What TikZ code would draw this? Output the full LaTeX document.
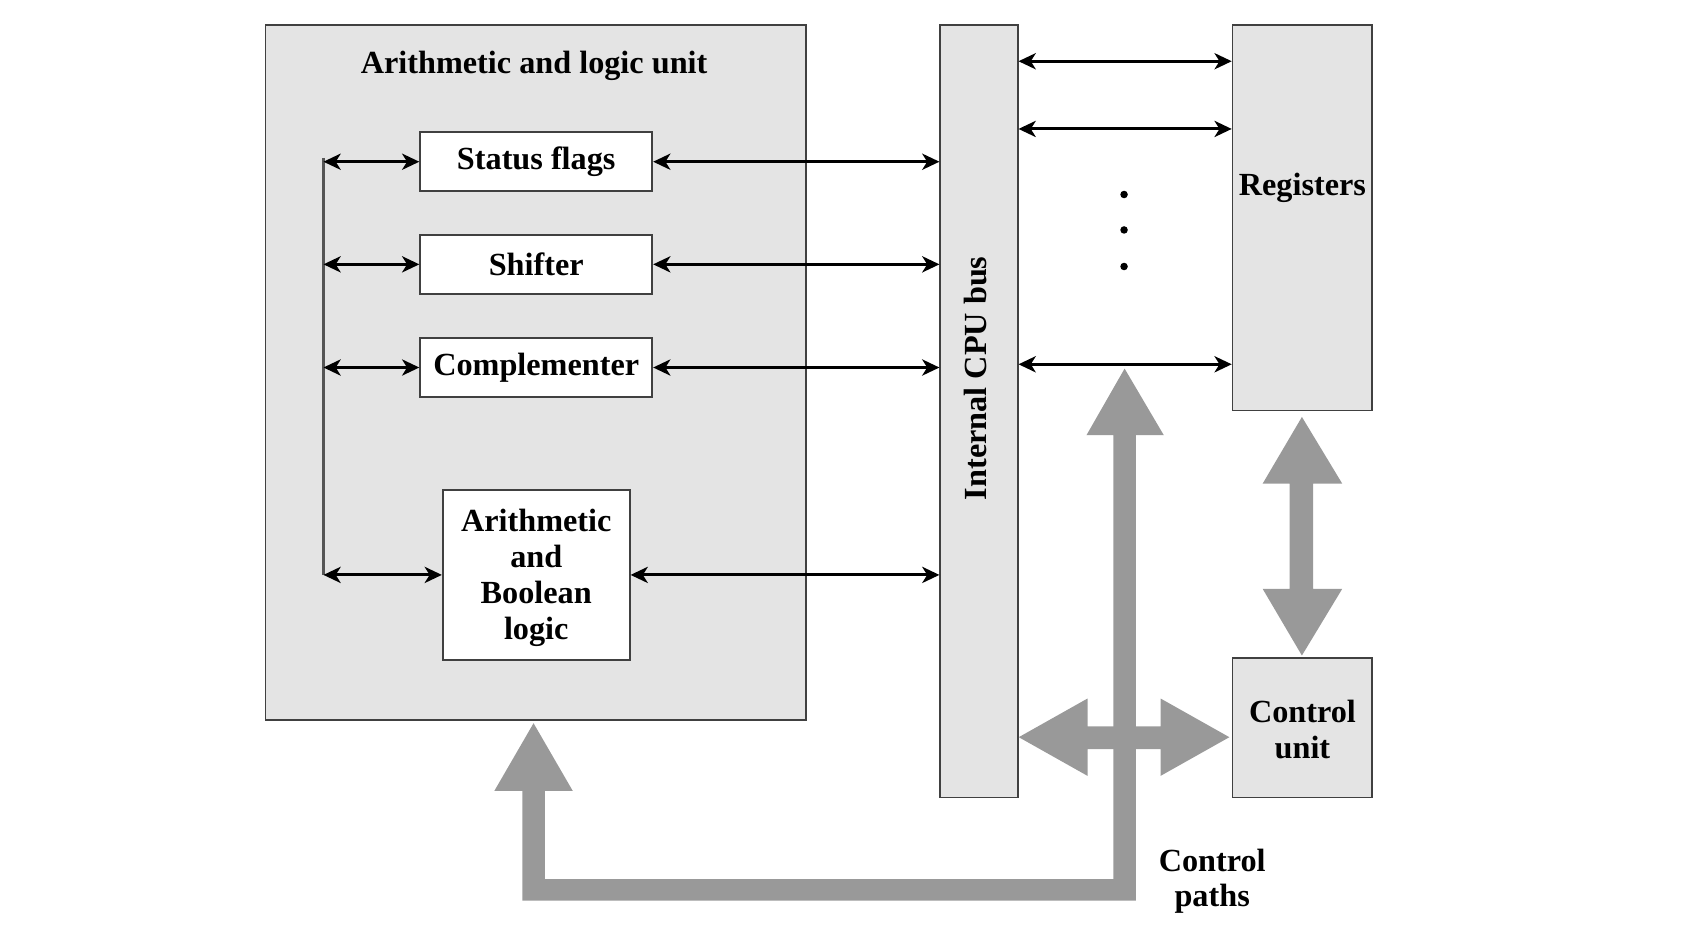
\documentclass[tikz,border=0pt]{standalone}
\usepackage{fontspec}
\setmainfont{Liberation Serif}
\usetikzlibrary{arrows.meta}
\definecolor{boxfill}{HTML}{E4E4E4}
\definecolor{boxline}{HTML}{404040}
\definecolor{railcol}{HTML}{555555}
\definecolor{bigarrow}{HTML}{999999}
\tikzset{
  txt/.style={font=\fontsize{15}{16.75}\selectfont\bfseries, align=center, inner sep=0pt},
  graybox/.style={draw=boxline, line width=0.8pt, fill=boxfill, inner sep=0pt},
  whitebox/.style={draw=boxline, line width=0.8pt, fill=white, inner sep=0pt, font=\fontsize{15}{16.75}\selectfont\bfseries, align=center},
  biarrow/.style={line width=1.4pt, {Stealth[length=8pt,width=7.5pt,inset=2.3pt]}-{Stealth[length=8pt,width=7.5pt,inset=2.3pt]}},
  rail/.style={draw=railcol, line width=1pt},
  bigfill/.style={fill=bigarrow, draw=none},
}
\begin{document}
\begin{tikzpicture}[x=0.5pt,y=-0.5pt]
\useasboundingbox (0,0) rectangle (1568,870);

% ALU container
\node[graybox, minimum width=251.5pt, minimum height=323.5pt] (alu) at (498.5,346.5) {};
\node[txt] (alutitle) at (497,61) {Arithmetic and logic unit};

% inner boxes
\node[whitebox, minimum width=108pt, minimum height=27.5pt] (sf) at (499,150.5) {Status flags};
\node[whitebox, minimum width=108pt, minimum height=27.5pt] (sh) at (499,246) {Shifter};
\node[whitebox, minimum width=108pt, minimum height=27.5pt] (cm) at (499,342) {Complementer};
\node[whitebox, minimum width=87pt, minimum height=79pt] (abl) at (499,535) {};
\node[txt] (abltext) at (499,538) {Arithmetic\\and\\Boolean\\logic};

% bus, registers, control unit
\node[graybox, minimum width=36pt, minimum height=359.5pt] (bus) at (911,382.5) {};
\node[txt, rotate=90] (bustext) at (908,352) {Internal CPU bus};
\node[graybox, minimum width=65pt, minimum height=179.5pt] (reg) at (1212,202.5) {};
\node[txt] (regtext) at (1212,175) {Registers};
\node[graybox, minimum width=65pt, minimum height=65pt] (cu) at (1212,677) {};
\node[txt, font=\fontsize{15}{16.5}\selectfont\bfseries] (cutext) at (1212,679) {Control\\unit};

% rail
\coordinate (railtop) at (301,147);
\coordinate (railbot) at (301,535);
\draw[rail] (railtop) -- (railbot);

% left arrows
\draw[biarrow] (sf.west -| railtop) -- (sf.west);
\draw[biarrow] (sh.west -| railtop) -- (sh.west);
\draw[biarrow] (cm.west -| railtop) -- (cm.west);
\draw[biarrow] (abl.west -| railtop) -- (abl.west);

% right arrows to bus
\draw[biarrow] (sf.east) -- (sf.east -| bus.west);
\draw[biarrow] (sh.east) -- (sh.east -| bus.west);
\draw[biarrow] (cm.east) -- (cm.east -| bus.west);
\draw[biarrow] (abl.east) -- (abl.east -| bus.west);

% bus to registers
\coordinate (r1) at (0,57);
\coordinate (r2) at (0,120);
\coordinate (r3) at (0,339);
\draw[biarrow] (bus.east |- r1) -- (reg.west |- r1);
\draw[biarrow] (bus.east |- r2) -- (reg.west |- r2);
\draw[biarrow] (bus.east |- r3) -- (reg.west |- r3);

% dots
\fill (1046,181) circle (3.5);
\fill (1046,214) circle (3.5);
\fill (1046,248) circle (3.5);

% big gray control paths
\fill[bigfill] (486,838) -- (486,736) -- (460,736) -- (496.5,673) -- (533,736) -- (507,736)
  -- (507,818) -- (1036,818) -- (1036,405) -- (1011,405) -- (1046.5,343) -- (1083,405)
  -- (1057,405) -- (1057,838) -- cycle;
\fill[bigfill] (948,686) -- (1012,650) -- (1012,676) -- (1080,676) -- (1080,650) -- (1144,686)
  -- (1080,722) -- (1080,697) -- (1012,697) -- (1012,722) -- cycle;
\fill[bigfill] (1211.5,388) -- (1249,450) -- (1222,450) -- (1222,548) -- (1249,548) -- (1211.5,610)
  -- (1175,548) -- (1200,548) -- (1200,450) -- (1175,450) -- cycle;

\node[txt, font=\fontsize{15}{16.5}\selectfont\bfseries] (cp) at (1128,820) {Control\\paths};
\end{tikzpicture}
\end{document}
